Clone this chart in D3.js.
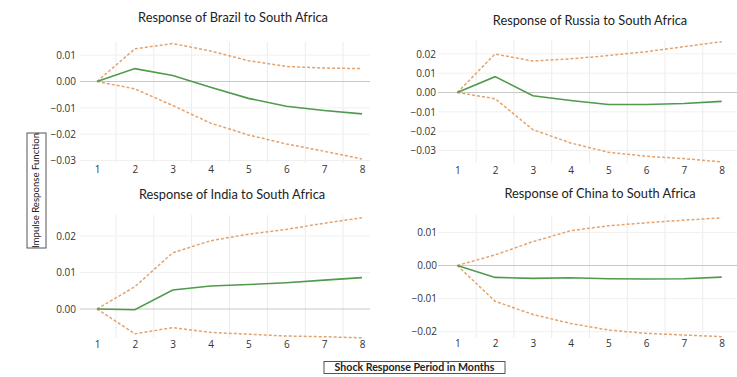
<!DOCTYPE html>
<html><head><meta charset="utf-8">
<script src="https://cdn.jsdelivr.net/npm/d3@7"></script>
<style>body{margin:0;background:#fff}svg{display:block}</style>
</head><body>
<svg id="c" width="737" height="377"></svg>
<script>
const periods = [1,2,3,4,5,6,7,8];
const titles = ["Response of Brazil to South Africa","Response of Russia to South Africa","Response of India to South Africa","Response of China to South Africa"];
const brazilMid = [0,0.0049,0.0023,-0.0022,-0.0064,-0.0094,-0.0110,-0.0123];
const brazilUp  = [0,0.0124,0.0144,0.0116,0.0079,0.0057,0.0051,0.0049];
const brazilLo  = [0,-0.0028,-0.0091,-0.0158,-0.0203,-0.0237,-0.0265,-0.0294];
const russiaMid = [0,0.0082,-0.0017,-0.0041,-0.0062,-0.0062,-0.0057,-0.0046];
const russiaUp  = [0,0.0199,0.0163,0.0174,0.0191,0.0211,0.0237,0.0263];
const russiaLo  = [0,-0.0032,-0.0192,-0.0261,-0.0309,-0.0330,-0.0342,-0.0359];
const indiaMid  = [0,-0.0002,0.0052,0.0063,0.0067,0.0072,0.0079,0.0086];
const indiaUp   = [0,0.0061,0.0154,0.0187,0.0205,0.0218,0.0235,0.0250];
const indiaLo   = [0,-0.0068,-0.0051,-0.0064,-0.0069,-0.0074,-0.0076,-0.0079];
const chinaMid  = [0,-0.0036,-0.0039,-0.0037,-0.0040,-0.0041,-0.0040,-0.0035];
const chinaUp   = [0,0.0032,0.0072,0.0105,0.0120,0.0129,0.0137,0.0144];
const chinaLo   = [0,-0.0108,-0.0148,-0.0175,-0.0195,-0.0205,-0.0210,-0.0215];
const brazilTicks = [0.01,0,-0.01,-0.02,-0.03];
const russiaTicks = [0.02,0.01,0,-0.01,-0.02,-0.03];
const indiaTicks  = [0.02,0.01,0];
const chinaTicks  = [0.01,0,-0.01,-0.02];
const yLabel = "Impulse Response Function";
const xLabel = "Shock Response Period in Months";

const panels = [
  {title:titles[0], mid:brazilMid, up:brazilUp, lo:brazilLo, ticks:brazilTicks,
   x1:97, x8:362, yd:[0,-0.03], yr:[81.5,160.5], gx:[80,370], gy:[42,163], tly:171, tlx:76, tx:233, ty:19},
  {title:titles[1], mid:russiaMid, up:russiaUp, lo:russiaLo, ticks:russiaTicks,
   x1:457.3, x8:721.7, yd:[0,-0.03], yr:[92.5,150.5], gx:[438,737], gy:[40,163], tly:172, tlx:436, tx:590, ty:22},
  {title:titles[2], mid:indiaMid, up:indiaUp, lo:indiaLo, ticks:indiaTicks,
   x1:97, x8:362, yd:[0,0.02], yr:[309,236], gx:[80,370], gy:[215,338], tly:346, tlx:76, tx:232, ty:196},
  {title:titles[3], mid:chinaMid, up:chinaUp, lo:chinaLo, ticks:chinaTicks,
   x1:457.3, x8:721.7, yd:[0,-0.02], yr:[265.5,331.7], gx:[438,737], gy:[215,338], tly:345, tlx:437, tx:600, ty:195}
];

const svg = d3.select("#c");
const fmt = d3.format(".2f");

panels.forEach(p => {
  const x = d3.scaleLinear().domain([1,8]).range([p.x1,p.x8]);
  const y = d3.scaleLinear().domain(p.yd).range(p.yr);
  const g = svg.append("g");
  const halves = d3.range(1.5, 8.5, 1);
  g.selectAll(".vg").data(halves).join("line")
    .attr("x1", d=>x(d)).attr("x2", d=>x(d))
    .attr("y1", p.gy[0]).attr("y2", p.gy[1])
    .attr("stroke", "#ececec").attr("stroke-width", 1);
  g.selectAll(".hg").data(p.ticks.filter(t=>t!==0)).join("line")
    .attr("x1", p.gx[0]).attr("x2", p.gx[1])
    .attr("y1", d=>y(d)).attr("y2", d=>y(d))
    .attr("stroke", "#f0f0f0").attr("stroke-width", 1);
  g.append("line").attr("x1", p.gx[0]).attr("x2", p.gx[1])
    .attr("y1", y(0)).attr("y2", y(0)).attr("stroke", "#c8c8c8").attr("stroke-width", 1.2);
  const ya = g.append("g").attr("transform", `translate(${p.tlx},0)`)
    .call(d3.axisLeft(y).tickValues(p.ticks).tickSize(0).tickPadding(0).tickFormat(fmt));
  ya.select(".domain").remove();
  ya.selectAll("text").attr("font-family","'Open Sans', sans-serif").attr("font-size",10).attr("fill","#333");
  const xa = g.append("g").attr("transform", `translate(0,${p.tly-5})`)
    .call(d3.axisBottom(x).tickValues(periods).tickSize(0).tickPadding(0).tickFormat(d3.format("d")));
  xa.select(".domain").remove();
  xa.selectAll("text").attr("font-family","'Open Sans', sans-serif").attr("font-size",10).attr("fill","#333");
  const line = d3.line().x((d,i)=>x(periods[i])).y(d=>y(d));
  [p.up, p.lo].forEach(arr => {
    g.append("path").datum(arr).attr("d", line).attr("fill","none")
      .attr("stroke","#e3a36f").attr("stroke-width",1.5).attr("stroke-dasharray","3,2");
  });
  g.append("path").datum(p.mid).attr("d", line).attr("fill","none")
    .attr("stroke","#4f9a4c").attr("stroke-width",1.6);
  g.append("text").attr("x", p.tx).attr("y", p.ty).attr("text-anchor","middle")
    .attr("dominant-baseline","middle")
    .attr("font-family","Lato, 'Open Sans', sans-serif").attr("font-size",12.8).attr("fill","#222")
    .text(p.title);
});

svg.append("rect").attr("x",27).attr("y",133).attr("width",19).attr("height",115)
  .attr("fill","#fff").attr("stroke","#555").attr("stroke-width",1);
svg.append("text").attr("transform","translate(37,190.5) rotate(-90)")
  .attr("text-anchor","middle").attr("dominant-baseline","middle")
  .attr("font-family","Lato, sans-serif").attr("font-size",9.6).attr("fill","#222").text(yLabel);
svg.append("rect").attr("x",324).attr("y",361.5).attr("width",181).attr("height",12)
  .attr("fill","#fff").attr("stroke","#555").attr("stroke-width",1);
svg.append("text").attr("x",414.5).attr("y",368).attr("text-anchor","middle").attr("dominant-baseline","middle")
  .attr("font-family","Lato, sans-serif").attr("font-size",10.6).attr("font-weight",700).attr("fill","#222").text(xLabel);
</script>
</body></html>
